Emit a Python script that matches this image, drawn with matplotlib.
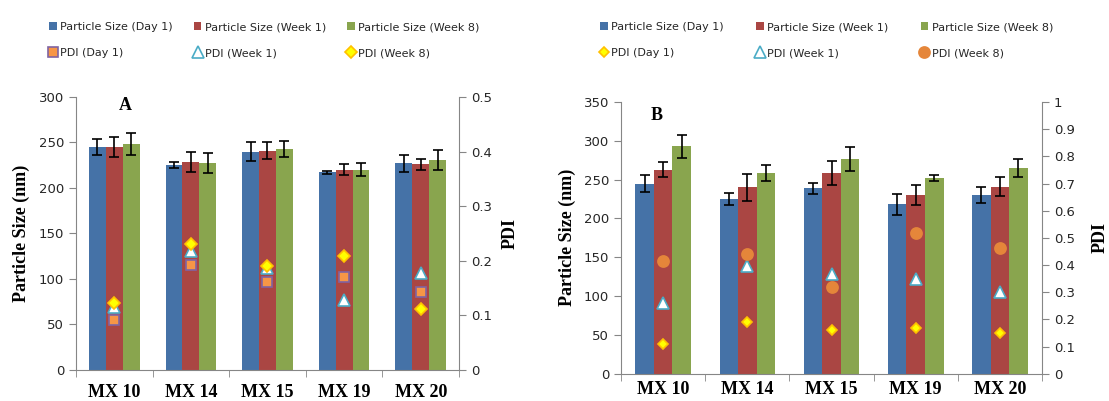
import numpy as np
import matplotlib
matplotlib.use("Agg")
import matplotlib.pyplot as plt
from matplotlib.patches import Patch
from matplotlib.lines import Line2D

## Data
samples = ['MX 10', 'MX 14', 'MX 15', 'MX 19', 'MX 20']
periods = ['Day 1', 'Week 1', 'Week 8']

# Panel A: particle size (nm) and SD
size_a = [[245, 225, 240, 217, 227],
          [245, 228, 241, 220, 226],
          [248, 227, 243, 220, 231]]
err_a = [[9, 3, 10, 1.5, 9],
         [11, 11, 9, 6, 6],
         [12, 11, 9, 7, 11]]
# Panel A: PDI
pdi_a = [[0.092, 0.192, 0.162, 0.171, 0.142],
         [0.115, 0.218, 0.186, 0.128, 0.178],
         [0.122, 0.230, 0.191, 0.209, 0.111]]

# Panel B: particle size (nm) and SD
size_b = [[245, 225, 239, 218, 230],
          [263, 240, 259, 230, 241],
          [293, 259, 277, 252, 265]]
err_b = [[11, 7.5, 7, 13.5, 10.5],
         [10, 17, 15.5, 13, 12],
         [15, 10.5, 15.5, 3.5, 11]]
# Panel B: PDI
pdi_b = [[0.109, 0.190, 0.161, 0.169, 0.149],
         [0.261, 0.397, 0.366, 0.347, 0.300],
         [0.415, 0.439, 0.319, 0.517, 0.463]]

## Styles
bar_colors = ['#4572A7', '#AA4643', '#89A54E']
axis_gray = '#868686'
text_dark = '#262626'
serif = 'Liberation Serif'

# marker styles per period
mk_a = [dict(marker='s', mfc='#F79646', mec='#8064A2', ms=7),
        dict(marker='^', mfc='white', mec='#4BACC6', ms=8),
        dict(marker='D', mfc='#FFFF00', mec='#FFC000', ms=6)]
mk_b = [dict(marker='D', mfc='#FFFF00', mec='#FFC000', ms=5.5),
        dict(marker='^', mfc='white', mec='#4BACC6', ms=8),
        dict(marker='o', mfc='#E5863A', mec='#E5863A', ms=8)]

plt.rcParams['font.family'] = 'DejaVu Sans'

fig = plt.figure(figsize=[11.09, 4.01], dpi=100)


def draw_panel(rect, sizes, errs, pdis, markers, ymax, ystep, pmax, letter,
               letter_xy, xpad, pdi_pad):
    ax = fig.add_axes(rect)
    x = np.arange(len(samples))
    w = 0.22
    for i, (vals, e) in enumerate(zip(sizes, errs)):
        ax.bar(x + (i - 1) * w, vals, w, color=bar_colors[i], zorder=2)
        ax.errorbar(x + (i - 1) * w, vals, yerr=e, fmt='none', ecolor='black',
                    elinewidth=1.2, capsize=3.5, capthick=1.2, zorder=3)

    ax.set_xlim(-0.5, len(samples) - 0.5)
    ax.set_ylim(0, ymax)
    ax.set_yticks(np.arange(0, ymax + 1, ystep))
    ax.set_xticks(x)
    ax.set_xticklabels(samples, family=serif, fontweight='bold', fontsize=13)
    ax.set_xticks(np.arange(-0.5, len(samples), 1), minor=True)
    ax.tick_params(axis='x', which='major', length=0, pad=xpad)
    ax.tick_params(axis='x', which='minor', length=5, color=axis_gray)
    ax.tick_params(axis='y', length=5, color=axis_gray, labelsize=9.5,
                   labelcolor=text_dark)
    for s in ['top', 'right']:
        ax.spines[s].set_visible(False)
    for s in ['left', 'bottom']:
        ax.spines[s].set_color(axis_gray)
    ax.set_ylabel('Particle Size (nm)', family=serif, fontweight='bold',
                  fontsize=13, labelpad=6)
    ax.text(letter_xy[0], letter_xy[1], letter, transform=ax.transAxes,
            family=serif, fontweight='bold', fontsize=13, ha='center', va='top')

    # PDI on the secondary axis
    ax2 = ax.twinx()
    for vals, m in zip(pdis, markers):
        ax2.plot(x, vals, linestyle='none', mew=1.2, zorder=4, **m)
    ticks = np.arange(0, pmax + 1e-9, 0.1)
    ax2.set_ylim(0, pmax)
    ax2.set_yticks(ticks)
    ax2.set_yticklabels(['{:g}'.format(round(v, 1)) for v in ticks])
    ax2.tick_params(axis='y', length=5, color=axis_gray, labelsize=9.5,
                    labelcolor=text_dark)
    for s in ['top', 'left', 'bottom']:
        ax2.spines[s].set_visible(False)
    ax2.spines['right'].set_color(axis_gray)
    ax2.set_ylabel('PDI', family=serif, fontweight='bold', fontsize=13,
                   rotation=90, labelpad=pdi_pad)
    return ax


def panel_legend(markers, anchor, colspace):
    handles, labels = [], []
    for i, p in enumerate(periods):
        handles.append(Patch(facecolor=bar_colors[i], edgecolor='none'))
        labels.append('Particle Size ({})'.format(p))
        handles.append(Line2D([], [], linestyle='none', mew=1.2, **markers[i]))
        labels.append('PDI ({})'.format(p))
    fig.legend(handles, labels, ncol=3, loc='upper left', bbox_to_anchor=anchor,
               frameon=False, fontsize=8, handlelength=0.7, handleheight=0.7,
               handletextpad=0.3, columnspacing=colspace, labelspacing=1.45,
               labelcolor=text_dark)


draw_panel([0.0685, 0.0773, 0.3454, 0.681], size_a, err_a, pdi_a, mk_a,
           300, 50, 0.5, 'A', (0.13, 1.0), 10, 7)
draw_panel([0.56, 0.068, 0.3796, 0.6776], size_b, err_b, pdi_b, mk_b,
           350, 50, 1.0, 'B', (0.085, 0.98), 5, 12)

panel_legend(mk_a, (0.035, 0.97), 1.9)
panel_legend(mk_b, (0.532, 0.97), 2.9)

fig.savefig('out.png', dpi=100)
